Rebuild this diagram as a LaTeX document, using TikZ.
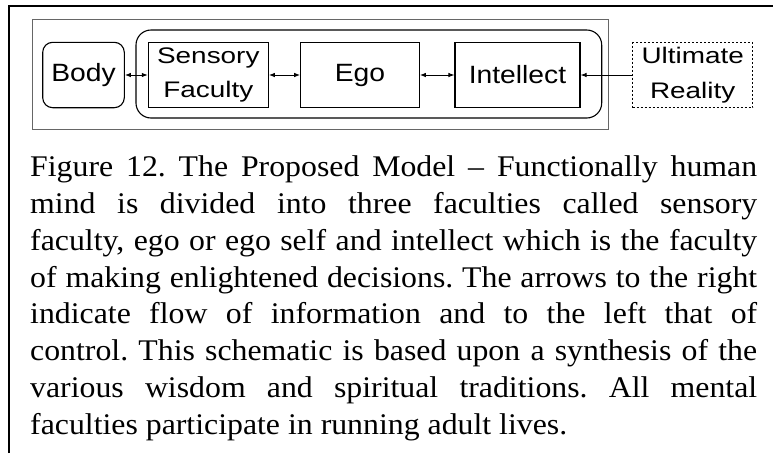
\documentclass[tikz,border=0pt]{standalone}
\usepackage{fontspec}
\setmainfont[FakeStretch=1.06]{Liberation Serif}
\newfontfamily\diagfont[FakeStretch=1.13]{Liberation Sans}
\newfontfamily\widefont[FakeStretch=1.24]{Liberation Sans}
\usetikzlibrary{arrows.meta}

\tikzset{
  box/.style={draw, line width=1.1pt, inner sep=0pt, align=center,
    font=\diagfont\fontsize{25}{30}\selectfont},
  roundbox/.style={box, rounded corners=10pt},
  twoline/.style={font=\widefont\fontsize{22.5}{34.5}\selectfont},
  dottedbox/.style={box, dash pattern=on 2pt off 2pt},
  link/.style={line width=0.9pt, {Latex[length=6pt,width=4.5pt]}-{Latex[length=6pt,width=4.5pt]}},
  feed/.style={line width=0.9pt, -{Latex[length=6pt,width=4.5pt]}},
  frame/.style={line width=1.8pt},
}

\begin{document}
\begin{tikzpicture}[x=1pt, y=-1pt]
  \useasboundingbox (0,0) rectangle (773,453);

  % figure frame (top and left rules)
  \coordinate (fbl) at (9,453);
  \coordinate (ftl) at (9,6);
  \coordinate (ftr) at (773,6);
  \draw[frame] (fbl) -- (ftl) -- (ftr);

  % grey panel around the schematic
  \node[draw=black!60, line width=0.8pt, minimum width=576pt, minimum height=110pt]
    (panel) at (320.2,74) {};

  % the mind: rounded enclosure of the three faculties
  \node[draw, line width=1.1pt, rounded corners=15pt, minimum width=465.7pt, minimum height=88pt]
    (mind) at (368.85,74) {};

  \node[roundbox, minimum width=81.6pt, minimum height=65.4pt] (body) at (83.5,75) {Body};
  \node[box, twoline, minimum width=120pt, minimum height=65.4pt] (sens) at (208.3,75) {Sensory\\Faculty};
  \node[box, minimum width=118.6pt, minimum height=65.6pt] (ego) at (360,75) {Ego};
  \node[box, minimum width=125pt, minimum height=65.4pt] (intel) at (517.5,75) {Intellect};
  \node[dottedbox, twoline, minimum width=120pt, minimum height=65pt] (ult) at (692.7,75) {Ultimate\\Reality};

  \draw[link] (body) -- (sens);
  \draw[link] (sens) -- (ego);
  \draw[link] (ego) -- (intel);
  \draw[feed] (ult) -- (intel);

  % caption
  \node[anchor=north west, inner sep=0pt, text width=727pt, align=justify,
        font=\fontsize{30}{36.9}\selectfont] (cap) at (30,155.3) {%
    \frenchspacing\hyphenpenalty=10000\exhyphenpenalty=10000\tolerance=10000%
    Figure 12. The Proposed Model – Functionally human\linebreak
    mind is divided into three faculties called sensory\linebreak
    faculty, ego or ego self and intellect which is the faculty\linebreak
    of making enlightened decisions. The arrows to the right\linebreak
    indicate flow of information and to the left that of\linebreak
    control. This schematic is based upon a synthesis of the\linebreak
    various wisdom and spiritual traditions. All mental\linebreak
    faculties participate in running adult lives.};
\end{tikzpicture}
\end{document}
